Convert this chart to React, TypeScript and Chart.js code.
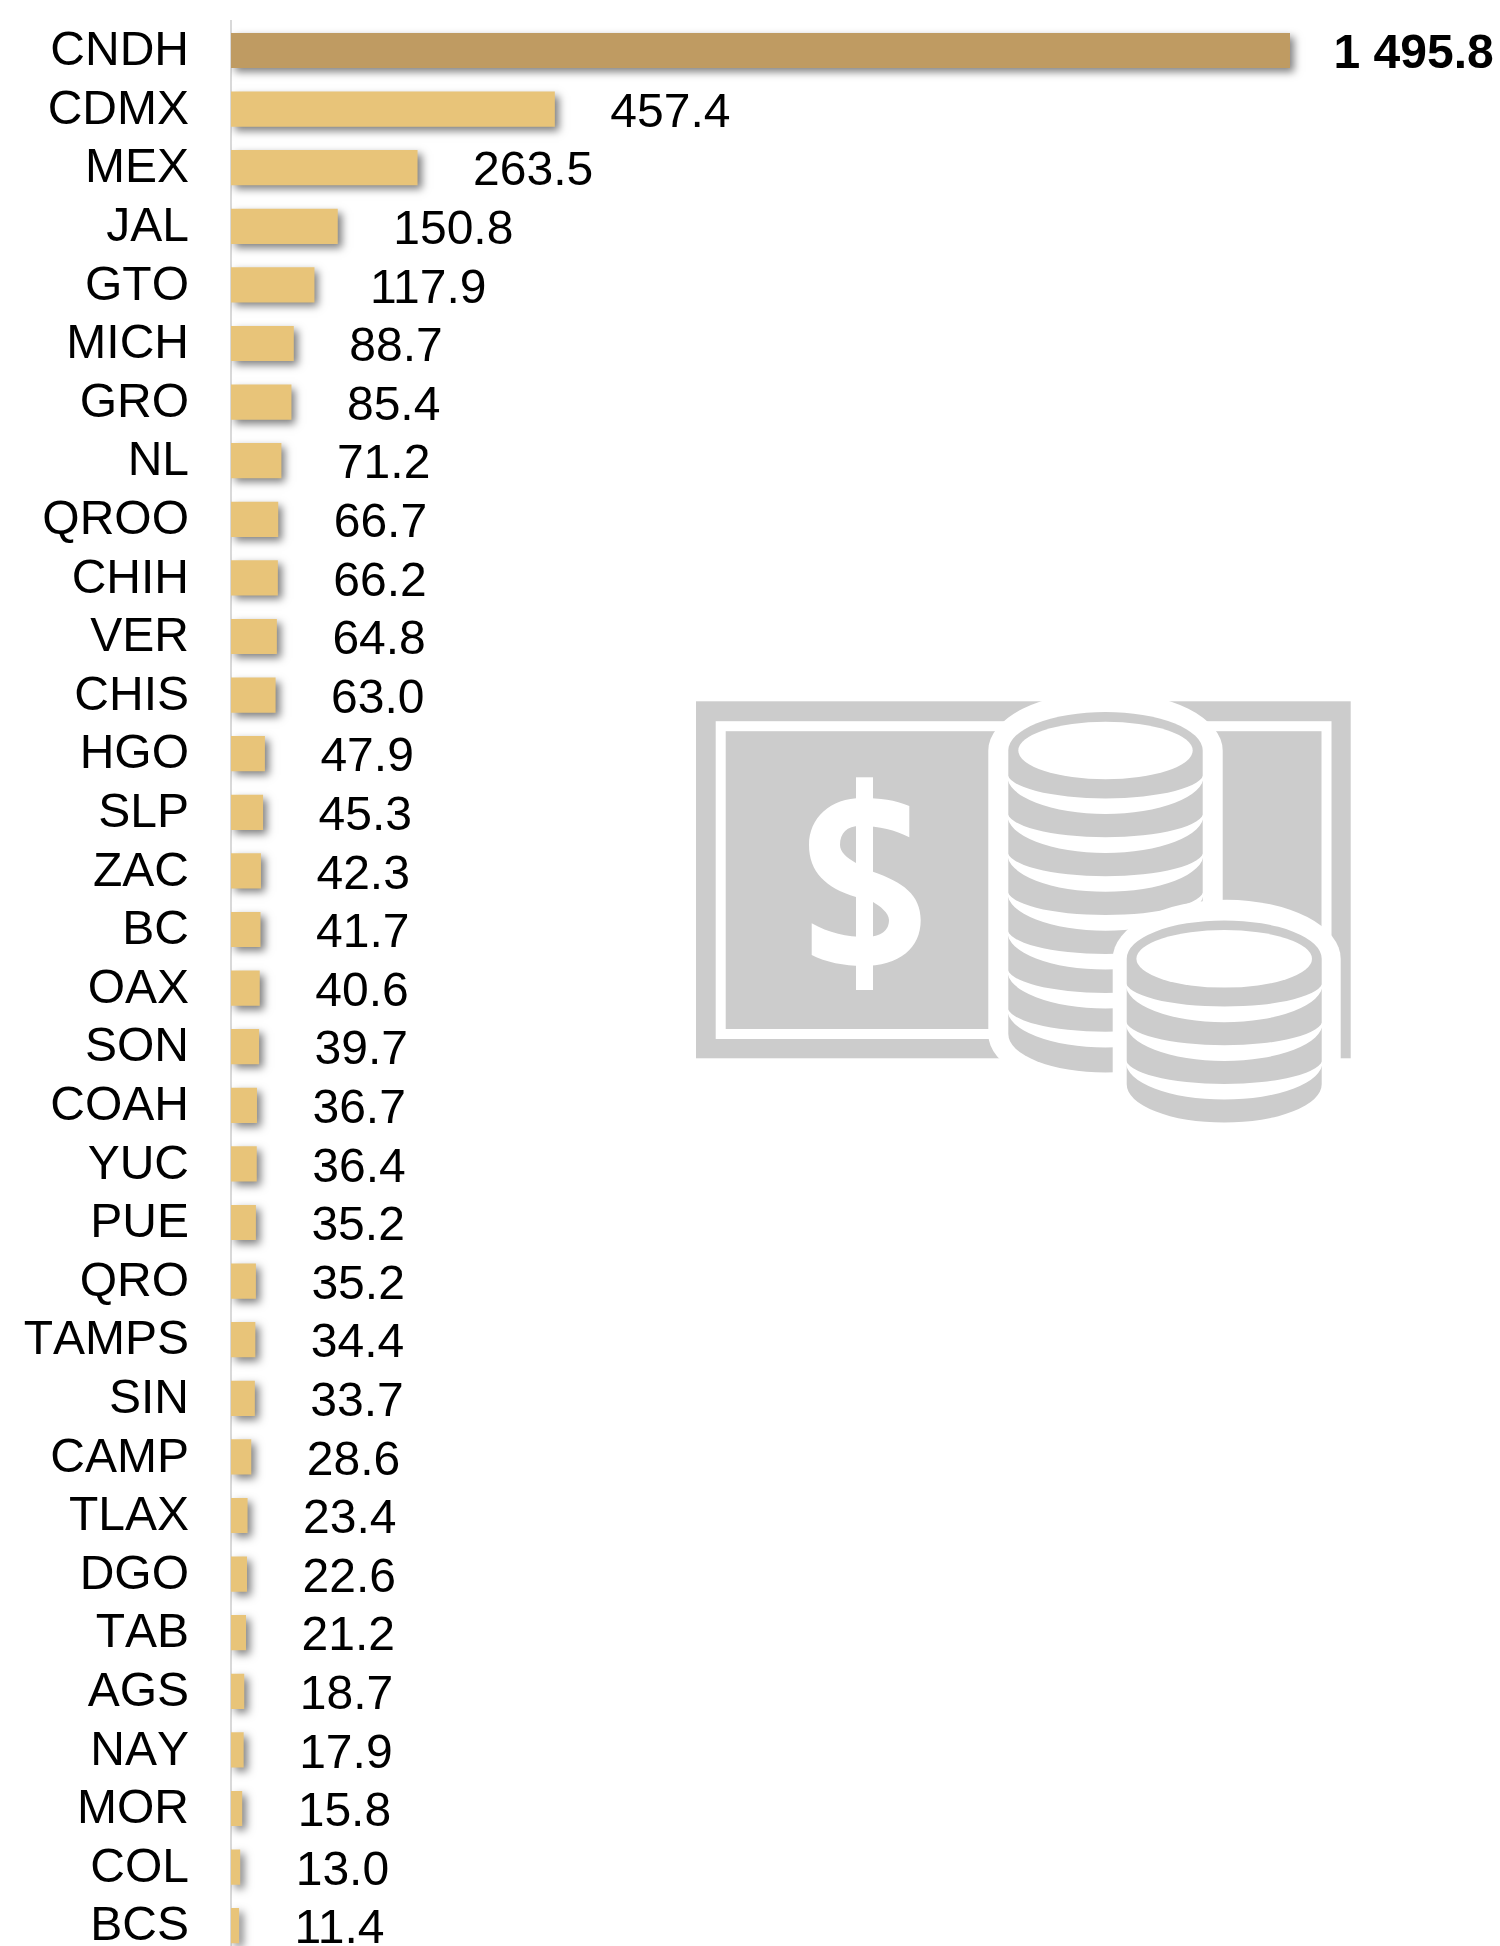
import React, { useEffect, useRef } from "react";
import { Chart, registerables } from "chart.js";

Chart.register(...registerables);

const states = ["CNDH","CDMX","MEX","JAL","GTO","MICH","GRO","NL","QROO","CHIH","VER","CHIS","HGO","SLP","ZAC","BC","OAX","SON","COAH","YUC","PUE","QRO","TAMPS","SIN","CAMP","TLAX","DGO","TAB","AGS","NAY","MOR","COL","BCS"];
const amounts = [1495.8,457.4,263.5,150.8,117.9,88.7,85.4,71.2,66.7,66.2,64.8,63.0,47.9,45.3,42.3,41.7,40.6,39.7,36.7,36.4,35.2,35.2,34.4,33.7,28.6,23.4,22.6,21.2,18.7,17.9,15.8,13.0,11.4];

const FONT = '"Liberation Sans", Arial, sans-serif';
const GOLD_DARK = "#BF9B62";
const GOLD = "#E8C479";
const ICON = "#CCCCCC";

const fmt = (v: number) => {
  const s = v.toFixed(1);
  const [a, b] = s.split(".");
  return a.replace(/\B(?=(\d{3})+$)/g, " ") + "." + b;
};

const barShadow = {
  id: "barShadow",
  beforeDatasetDraw(chart: any) {
    const c = chart.ctx;
    c.save();
    c.shadowColor = "rgba(0,0,0,0.5)";
    c.shadowBlur = 8;
    c.shadowOffsetX = 4;
    c.shadowOffsetY = 4;
  },
  afterDatasetDraw(chart: any) {
    chart.ctx.restore();
  },
};

const shiftTicks = {
  id: "shiftTicks",
  beforeDraw(chart: any) {
    chart.ctx.fontKerning = "none";
    const items = chart.scales.y.getLabelItems(chart.chartArea);
    items.forEach((it: any) => {
      if (!it.__moved) {
        it.options.translation = [it.options.translation[0], it.options.translation[1] + 1.4];
        it.__moved = true;
      }
    });
  },
};

const valueLabels = {
  id: "valueLabels",
  afterDatasetsDraw(chart: any) {
    const c = chart.ctx;
    const meta = chart.getDatasetMeta(0);
    c.save();
    c.fontKerning = "normal";
    c.fillStyle = "#000";
    c.textAlign = "left";
    c.textBaseline = "middle";
    meta.data.forEach((el: any, i: number) => {
      const bold = i === 0;
      c.font = `${bold ? "bold " : ""}48px ${FONT}`;
      c.fillText(fmt(amounts[i]), el.x + (bold ? 43.5 : 55.5), el.y + (bold ? 4 : 4.5));
    });
    c.restore();
  },
};

function crescents(cx: number, rx: number, start: number, step: number, n: number) {
  const out: React.ReactElement[] = [];
  for (let k = 0; k < n; k++) {
    const y = start + k * step;
    const l = cx - rx - 1;
    const r = cx + rx + 1;
    out.push(
      <path key={k} fill="#fff" d={`M${l} ${y + 13} A${rx + 1} 25.4 0 0 0 ${r} ${y + 13} L${r} ${y + 16} A${rx + 1} 38 0 0 1 ${l} ${y + 16} Z`} />
    );
  }
  return out;
}

function stack(cx: number, top: number, bottom: number, rx: number) {
  return (
    <path fill={ICON} d={`M${cx - rx} ${top} A${rx} 38.4 0 0 1 ${cx + rx} ${top} L${cx + rx} ${bottom} A${rx} 38.4 0 0 1 ${cx - rx} ${bottom} Z`} />
  );
}

function halo(cx: number, top: number, bottom: number, rx: number) {
  return (
    <path fill="#fff" d={`M${cx - rx} ${top} A${rx} 59 0 0 1 ${cx + rx} ${top} L${cx + rx} ${bottom} A${rx} 59 0 0 1 ${cx - rx} ${bottom} Z`} />
  );
}

function MoneyIcon() {
  return (
    <svg width={1500} height={1946} viewBox="0 0 1500 1946" style={{ position: "absolute", left: 0, top: 0, pointerEvents: "none" }}>
      <rect x={696} y={701.3} width={654.7} height={357} fill={ICON} />
      <rect x={720.7} y={726.2} width={605.8} height={307.8} fill="none" stroke="#fff" strokeWidth={10} />
      <rect x={856} y={777.3} width={17} height={212.7} fill="#fff" />
      <path
        fill="#fff"
        d="M909.3 806 C895 800 880 798 862 798 C830 798 809 818 809 845 C809 872 826 888 856 897 L873 902 C880 906 889 913 889 920 C889 930 882 937 865 937 C848 937 828 933 811.7 923.3 L811.7 955 C825 962 845 966 862 966 C900 966 920.7 948 920.7 920 C920.7 895 903 882 873 871.7 L856 863 C847 858 840 852 840 845 C840 833 847 826 860 826 C880 826 895 830 909.3 837.3 Z"
      />
      {halo(1105.5, 750.5, 1034, 117.2)}
      {stack(1105.5, 750.5, 1034, 97.2)}
      {crescents(1105.5, 97.2, 760, 38.9, 7)}
      <ellipse cx={1105.5} cy={750.5} rx={87.2} ry={28.8} fill="#fff" />
      {halo(1226.7, 958.8, 1084.2, 114)}
      {stack(1224.2, 958.8, 1084.2, 97.5)}
      {crescents(1224.2, 97.5, 968.2, 38.7, 3)}
      <ellipse cx={1224.2} cy={958.8} rx={87.8} ry={28.8} fill="#fff" />
    </svg>
  );
}

export default function App() {
  const ref = useRef<HTMLCanvasElement | null>(null);

  useEffect(() => {
    document.body.style.margin = "0";
    const chart = new Chart(ref.current as HTMLCanvasElement, {
      type: "bar",
      data: {
        labels: states,
        datasets: [
          {
            data: amounts,
            backgroundColor: amounts.map((_, i) => (i === 0 ? GOLD_DARK : GOLD)),
            borderWidth: 0,
            barPercentage: 1,
            categoryPercentage: 0.6,
          },
        ],
      },
      options: {
        indexAxis: "y",
        animation: false,
        responsive: false,
        devicePixelRatio: 1,
        layout: { padding: { top: 21.2, left: 0, right: 0, bottom: 0 } },
        plugins: { legend: { display: false }, tooltip: { enabled: false } },
        scales: {
          x: { display: false, min: 0, max: 1792.4 },
          y: {
            afterFit(scale: any) {
              scale.width = 231;
              scale.paddingTop = 0;
              scale.paddingBottom = 0;
            },
            grid: { display: false, drawTicks: false },
            border: { color: "#D9D9D9", width: 2 },
            ticks: {
              autoSkip: false,
              padding: 42,
              color: "#000",
              font: { family: FONT, size: 48 },
            },
          },
        },
      } as any,
      plugins: [shiftTicks, barShadow, valueLabels],
    });
    return () => chart.destroy();
  }, []);

  return (
    <div style={{ position: "absolute", left: 0, top: 0, width: 1500, height: 1946, overflow: "hidden", background: "#fff" }}>
      <canvas ref={ref} width={1500} height={1955} style={{ display: "block" }} />
      <MoneyIcon />
    </div>
  );
}
